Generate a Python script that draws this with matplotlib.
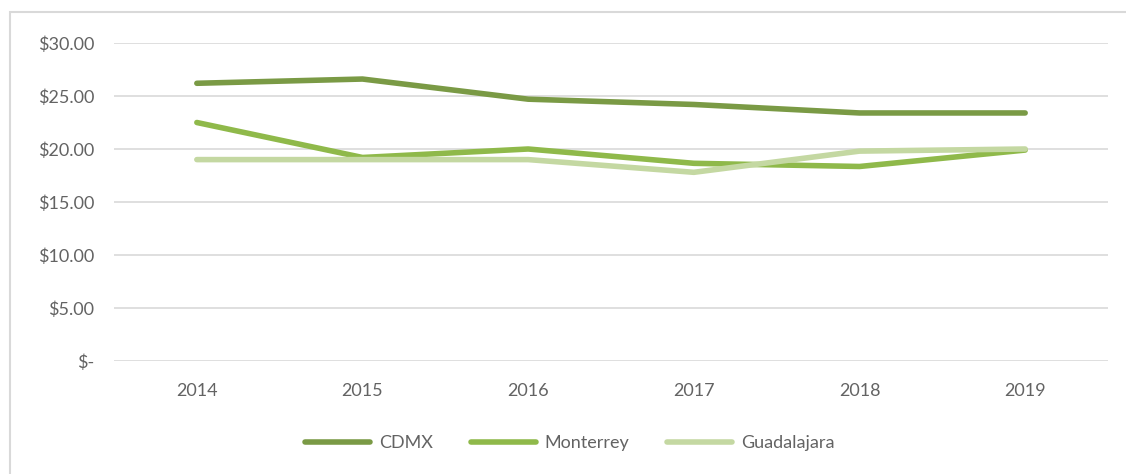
import matplotlib.pyplot as plt
from matplotlib.patches import Rectangle
from matplotlib.ticker import FuncFormatter

years = ["2014", "2015", "2016", "2017", "2018", "2019"]
cdmx = [26.2, 26.6, 24.7, 24.2, 23.4, 23.4]
monterrey = [22.5, 19.2, 20.0, 18.65, 18.35, 19.9]
guadalajara = [19.0, 19.0, 19.0, 17.8, 19.8, 20.0]

series = [
    ("CDMX", cdmx, "#7a9a45"),
    ("Monterrey", monterrey, "#8fb94a"),
    ("Guadalajara", guadalajara, "#c4d8a2"),
]

plt.rcParams["font.family"] = ["Lato", "DejaVu Sans"]
TXT = "#636363"

fig = plt.figure(figsize=(11.26, 4.74), dpi=100)
fig.patch.set_facecolor("white")

# light chart-area frame (cropped at top/right in the reference)
fig.patches.append(Rectangle((10 / 1126, -0.1), 1.2, 1 - 12 / 474 + 0.1,
                             transform=fig.transFigure, fill=False,
                             edgecolor="#d9d9d9", lw=1.5))

ax = fig.add_axes([114 / 1126, 1 - 361 / 474, (1108 - 114) / 1126, (361 - 43) / 474])
x = list(range(len(years)))
for name, vals, color in series:
    ax.plot(x, vals, color=color, lw=4.0, solid_capstyle="round",
            solid_joinstyle="round", label=name)

ax.set_xlim(-0.5, len(years) - 0.5)
ax.set_ylim(0, 30)
ax.set_yticks([0, 5, 10, 15, 20, 25, 30])
ax.yaxis.set_major_formatter(FuncFormatter(lambda v, p: "$-" if v == 0 else f"${v:.2f}"))
ax.set_xticks(x)
ax.set_xticklabels(years)
ax.grid(axis="y", color="#d9d9d9", lw=1.2)
ax.set_axisbelow(True)
for s in ax.spines.values():
    s.set_visible(False)
ax.tick_params(length=0, labelsize=13, colors=TXT)
ax.tick_params(axis="y", pad=14)
ax.tick_params(axis="x", pad=16)

ax.legend(loc="center", bbox_to_anchor=(570 / 1126, 1 - 443 / 474),
          bbox_transform=fig.transFigure, ncol=3, frameon=False,
          handlelength=3.6, columnspacing=2.1, fontsize=13,
          labelcolor=TXT, handletextpad=0.5)

fig.savefig("out.png", dpi=100)
